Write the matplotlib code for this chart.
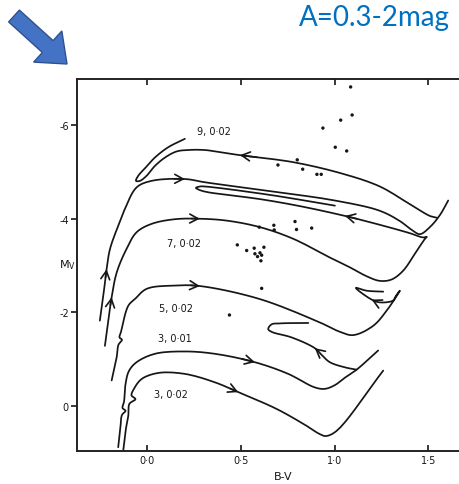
#!/usr/bin/env python3
# -*- coding: utf-8 -*-
"""
Evolutionary tracks in the colour-magnitude diagram (B-V vs Mv)
"""
import numpy as np
import matplotlib
matplotlib.use("Agg")
import matplotlib.pyplot as plt
from matplotlib.patches import FancyArrow

# ---- data (B-V, Mv) ----
# 9 Msun, Z=0.02 : main sequence, crossing, red giant
track9_bv = [-0.253, -0.234, -0.217, -0.199, -0.155, -0.119, -0.057, 0.023, 0.201, 0.308,
             0.655, 1.002, 1.242, 1.349, 1.413, 1.456, 1.509, 1.563, 1.607]
track9_mv = [-1.82, -2.37, -2.92, -3.35, -3.85, -4.21, -4.67, -4.81, -4.85, -4.78,
             -4.59, -4.39, -4.17, -3.95, -3.76, -3.67, -3.82, -4.08, -4.39]
# 9 Msun blue loop
loop9_bv = [1.547, 1.509, 1.403, 1.242, 1.046, 0.780, 0.495, 0.308, 0.217, 0.157,
            0.095, 0.041, -0.003, -0.039, -0.060, -0.048, -0.012, 0.041, 0.112, 0.201]
loop9_mv = [-4.02, -4.06, -4.31, -4.69, -4.96, -5.21, -5.36, -5.47, -5.47, -5.44,
            -5.31, -5.13, -4.92, -4.81, -4.81, -4.92, -5.08, -5.31, -5.53, -5.71]
# 7 Msun, Z=0.02
track7_bv = [-0.226, -0.208, -0.190, -0.163, -0.111, -0.057, 0.023, 0.148, 0.281, 0.424,
             0.602, 0.780, 0.975, 1.082, 1.171, 1.242, 1.305, 1.367, 1.429, 1.483,
             1.493, 1.472, 1.403, 1.242, 1.056, 0.815, 0.602, 0.308, 0.271, 0.260,
             0.281, 0.308, 0.655, 1.002]
track7_mv = [-1.28, -1.82, -2.32, -2.85, -3.35, -3.71, -3.89, -3.99, -4.00, -3.96,
             -3.82, -3.57, -3.17, -2.96, -2.77, -2.67, -2.70, -2.89, -3.25, -3.57,
             -3.61, -3.60, -3.69, -3.87, -4.06, -4.27, -4.42, -4.58, -4.63, -4.66,
             -4.69, -4.69, -4.51, -4.28]
# 5 Msun, Z=0.02
track5_bv = [-0.190, -0.163, -0.154, -0.135, -0.148, -0.140, -0.101, -0.066, -0.003, 0.148,
             0.281, 0.602, 0.922, 1.029, 1.100, 1.207, 1.285, 1.349, 1.328, 1.313,
             1.242, 1.198, 1.114, 1.171, 1.260]
track5_mv = [-0.54, -1.04, -1.30, -1.41, -1.46, -1.58, -2.14, -2.28, -2.50, -2.57,
             -2.56, -2.28, -1.78, -1.58, -1.51, -1.71, -2.07, -2.46, -2.35, -2.25,
             -2.21, -2.27, -2.52, -2.46, -2.44]
# 3 Msun, Z=0.01
track3a_bv = [-0.155, -0.143, -0.135, -0.116, -0.132, -0.124, -0.116, -0.098, -0.057, 0.041,
              0.201, 0.361, 0.575, 0.753, 0.895, 0.949, 1.002, 1.056, 1.118, 1.178, 1.233]
track3a_mv = [0.89, 0.46, 0.20, 0.11, 0.05, -0.08, -0.46, -0.74, -0.93, -1.11,
              -1.16, -1.11, -0.93, -0.68, -0.39, -0.36, -0.44, -0.60, -0.77, -0.98, -1.18]
loop3a_bv = [1.118, 1.056, 0.975, 0.933, 0.895, 0.771, 0.664, 0.646, 0.664, 0.708, 0.860]
loop3a_mv = [-0.77, -0.82, -0.93, -1.08, -1.23, -1.46, -1.58, -1.64, -1.74, -1.76, -1.77]
# 3 Msun, Z=0.02
track3b_bv = [-0.128, -0.114, -0.101, -0.095, -0.063, -0.084, -0.071, -0.030, 0.059, 0.201,
              0.361, 0.486, 0.691, 0.842, 0.922, 0.954, 1.011, 1.260]
track3b_mv = [0.96, 0.50, 0.21, -0.04, -0.14, -0.22, -0.36, -0.57, -0.70, -0.68,
              -0.50, -0.29, 0.07, 0.41, 0.61, 0.65, 0.54, -0.75]

# observed stars
star_bv = [1.086, 1.094, 1.033, 0.938, 1.004, 1.065, 0.801, 0.698, 0.830, 0.906, 0.929,
           0.598, 0.676, 0.678, 0.789, 0.797, 0.878, 0.481, 0.531, 0.571, 0.623, 0.575,
           0.602, 0.589, 0.611, 0.607, 0.611, 0.439]
star_mv = [-6.82, -6.22, -6.11, -5.94, -5.53, -5.45, -5.26, -5.15, -5.06, -4.95, -4.95,
           -3.82, -3.86, -3.76, -3.94, -3.77, -3.80, -3.44, -3.32, -3.37, -3.39, -3.25,
           -3.27, -3.19, -3.22, -3.10, -2.51, -1.94]

# track labels (mass, Z) and where they sit
label_text = ["9, 0\u00b702", "7, 0\u00b702", "5, 0\u00b702", "3, 0\u00b701", "3, 0\u00b702"]
label_bv = [0.356, 0.196, 0.153, 0.148, 0.127]
label_mv = [-5.88, -3.48, -2.09, -1.45, -0.25]

xtick_vals = [0.0, 0.5, 1.0, 1.5]
xtick_labels = ["0\u00b70", "0\u00b75", "1\u00b70", "1\u00b75"]
ytick_vals = [-6, -4, -2, 0]
ytick_labels = ["-6", "-4", "-2", "0"]

tracks = {
    "9": (track9_bv, track9_mv),
    "9loop": (loop9_bv, loop9_mv),
    "7": (track7_bv, track7_mv),
    "5": (track5_bv, track5_mv),
    "3a": (track3a_bv, track3a_mv),
    "3aloop": (loop3a_bv, loop3a_mv),
    "3b": (track3b_bv, track3b_mv),
}
# arrowheads: (track, index of read point where the head sits)
arrows = [("9", 2), ("9", 8), ("9loop", 6), ("7", 2), ("7", 8), ("7", 24),
          ("5", 10), ("5", 21), ("3a", 12), ("3aloop", 4), ("3b", 11)]

N = 10  # samples per segment when smoothing


def smooth(bv, mv, n=N):
    # centripetal Catmull-Rom through the read points
    # (Mv scaled by 0.25 so both axes are roughly in the same pixel units)
    P = np.column_stack([np.asarray(bv, float), np.asarray(mv, float) * 0.25])
    P = np.vstack([2 * P[0] - P[1], P, 2 * P[-1] - P[-2]])
    pts = [P[1]]
    for i in range(1, len(P) - 2):
        p0, p1, p2, p3 = P[i - 1], P[i], P[i + 1], P[i + 2]
        t0 = 0.0
        t1 = t0 + max(np.hypot(*(p1 - p0)), 1e-6) ** 0.5
        t2 = t1 + max(np.hypot(*(p2 - p1)), 1e-6) ** 0.5
        t3 = t2 + max(np.hypot(*(p3 - p2)), 1e-6) ** 0.5
        t = np.linspace(t1, t2, n)[1:, None]
        a1 = (t1 - t) / (t1 - t0) * p0 + (t - t0) / (t1 - t0) * p1
        a2 = (t2 - t) / (t2 - t1) * p1 + (t - t1) / (t2 - t1) * p2
        a3 = (t3 - t) / (t3 - t2) * p2 + (t - t2) / (t3 - t2) * p3
        b1 = (t2 - t) / (t2 - t0) * a1 + (t - t0) / (t2 - t0) * a2
        b2 = (t3 - t) / (t3 - t1) * a2 + (t - t1) / (t3 - t1) * a3
        c = (t2 - t) / (t2 - t1) * b1 + (t - t1) / (t2 - t1) * b2
        pts.extend(c)
    pts = np.array(pts)
    return pts[:, 0], pts[:, 1] / 0.25


ink = "#161616"

fig = plt.figure(figsize=(4.6, 4.85), dpi=100)

# background layer in pixel units for the slide decorations
bg = fig.add_axes([0, 0, 1, 1])
bg.set_xlim(0, 460)
bg.set_ylim(485, 0)
bg.axis("off")
bg.add_patch(FancyArrow(14, 17, 53, 48, width=16, head_width=42, head_length=26,
                        length_includes_head=True, fc="#4472C4", ec="#2F528F", lw=1))
bg.text(450, 26, "A=0.3-2mag", color="#0070C0", fontsize=20, family=["Lato", "DejaVu Sans"],
        ha="right", va="baseline")

# the diagram itself
ax = fig.add_axes([77 / 460, 1 - 452 / 485, 383 / 460, 372 / 485])
ax.set_xlim(-0.375, 1.67)
ax.set_ylim(0.97, -6.99)

smoothed = {}
for name, (bv, mv) in tracks.items():
    sx, sy = smooth(bv, mv)
    smoothed[name] = (sx, sy)
    ax.plot(sx, sy, color=ink, lw=1.25, solid_capstyle="round", solid_joinstyle="round")

for name, k in arrows:
    sx, sy = smoothed[name]
    j = k * (N - 1)
    ax.annotate("", xy=(sx[j], sy[j]), xytext=(sx[j - 3], sy[j - 3]),
                arrowprops=dict(arrowstyle="->,head_length=0.6,head_width=0.32",
                                lw=1.2, color=ink, shrinkA=0, shrinkB=0,
                                mutation_scale=10))

ax.scatter(star_bv, star_mv, s=6, color=ink, edgecolors="none", zorder=3)

for txt, x, y in zip(label_text, label_bv, label_mv):
    ax.text(x, y, txt, fontsize=7, color=ink, ha="center", va="center")

# axes styling
ax.spines["right"].set_visible(False)
for s in ["left", "bottom", "top"]:
    ax.spines[s].set_linewidth(1.4)
    ax.spines[s].set_color("#222222")

ax.set_xticks(xtick_vals)
ax.set_xticklabels(xtick_labels)
ax.tick_params(axis="x", direction="in", top=True, length=4, width=1.2,
               labelsize=7, pad=3, colors=ink)
ax.set_yticks(ytick_vals)
ax.set_yticklabels(ytick_labels)
ax.tick_params(axis="y", direction="out", length=4.3, width=1.2,
               labelsize=7, pad=1.5, colors=ink)

ax.text(0.539, -0.066, "B-V", transform=ax.transAxes, fontsize=8, color=ink,
        ha="center", va="center")
ax.text(-0.024, 0.503, "M$_\\mathrm{V}$", transform=ax.transAxes, fontsize=8, color=ink,
        ha="center", va="center")

fig.savefig("out.png", dpi=100)
